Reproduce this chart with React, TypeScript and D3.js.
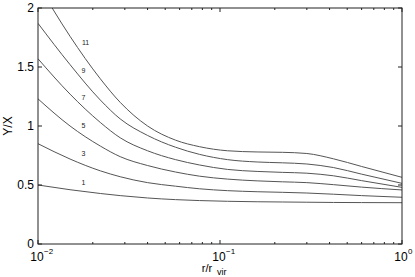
import React from 'react';
import * as d3 from 'd3';

// radius samples (r / r_vir) and the curves
const radii = [0.01, 0.015, 0.022, 0.0283, 0.04, 0.057, 0.077, 0.11, 0.16, 0.22, 0.3, 0.42, 0.6, 1];
const curve1 = [0.5, 0.46, 0.428, 0.41, 0.39, 0.376, 0.368, 0.362, 0.358, 0.356, 0.354, 0.352, 0.351, 0.35];
const curve3 = [0.85, 0.72, 0.62, 0.57, 0.52, 0.49, 0.468, 0.452, 0.443, 0.438, 0.432, 0.422, 0.41, 0.396];
const curve5 = [1.23, 1.0, 0.83, 0.74, 0.665, 0.61, 0.575, 0.55, 0.535, 0.527, 0.52, 0.503, 0.482, 0.458];
const curve7 = [1.57, 1.27, 1.03, 0.9, 0.79, 0.715, 0.67, 0.632, 0.615, 0.607, 0.6, 0.578, 0.537, 0.48];
const curve9 = [1.87, 1.52, 1.22, 1.06, 0.92, 0.82, 0.76, 0.715, 0.695, 0.688, 0.678, 0.648, 0.592, 0.514];
const curve11 = [2.2, 1.76, 1.4, 1.2, 1.0, 0.88, 0.825, 0.79, 0.78, 0.777, 0.767, 0.722, 0.657, 0.565];

const series = [
    {label: '1', values: curve1},
    {label: '3', values: curve3},
    {label: '5', values: curve5},
    {label: '7', values: curve7},
    {label: '9', values: curve9},
    {label: '11', values: curve11}
];

// label anchors (data coords)
const labelR = 0.0178;
const labelY = [0.5, 0.75, 0.985, 1.22, 1.45, 1.69];

const yTicks = [0, 0.5, 1, 1.5, 2];
const yTickLabels = ['0', '0.5', '1', '1.5', '2'];
const xMajor = [0.01, 0.1, 1];
const xMajorExp = ['\u22122', '\u22121', '0'];

export default function App()
{
    const margin = {top: 8, right: 13, bottom: 33, left: 38};
    const width = 415;
    const height = 277;
    const w = width - margin.left - margin.right;
    const h = height - margin.top - margin.bottom;

    const x = d3.scaleLog().domain([0.01, 1]).range([0, w]);
    const y = d3.scaleLinear().domain([0, 2]).range([h, 0]);

    const line = d3.line<number>()
        .x((d, i) => x(radii[i]))
        .y(d => y(d))
        .curve(d3.curveMonotoneX);

    const minor: number[] = [];
    [0.01, 0.1].forEach(base =>
    {
        for (let k = 2; k <= 9; k++) minor.push(base * k);
    });

    const font = 'Liberation Sans, Arial, Helvetica, sans-serif';
    const box = '#222';

    return (
        <svg width={width} height={height} style={{position: 'absolute', left: 0, top: 0}}>
            <defs>
                <clipPath id="plotclip">
                    <rect x={0} y={0} width={w} height={h}/>
                </clipPath>
            </defs>
            <g transform={'translate(' + margin.left + ',' + margin.top + ')'}>
                <g clipPath="url(#plotclip)">
                    {series.map(s => (
                        <path key={s.label} d={line(s.values) || ''} fill="none" stroke="#555" strokeWidth={1}/>
                    ))}
                </g>
                {series.map((s, i) => (
                    <text key={'l' + s.label} x={x(labelR) + (s.label.length > 1 ? 2 : 0)} y={y(labelY[i])}
                          fontSize={7} fontFamily={font} fill="#222" textAnchor="middle">{s.label}</text>
                ))}

                {/* box */}
                <rect x={0} y={0} width={w} height={h} fill="none" stroke={box} strokeWidth={1}/>

                {/* y ticks */}
                {yTicks.map((t, i) => (
                    <g key={'y' + i}>
                        <line x1={0} x2={4} y1={y(t)} y2={y(t)} stroke={box}/>
                        <line x1={w} x2={w - 4} y1={y(t)} y2={y(t)} stroke={box}/>
                        <text x={-4} y={y(t) + 4} fontSize={12} fontFamily={font} textAnchor="end" fill="#000">
                            {yTickLabels[i]}
                        </text>
                    </g>
                ))}

                {/* x ticks */}
                {minor.map((t, i) => (
                    <g key={'m' + i}>
                        <line x1={x(t)} x2={x(t)} y1={h} y2={h - 2} stroke={box}/>
                        <line x1={x(t)} x2={x(t)} y1={0} y2={2} stroke={box}/>
                    </g>
                ))}
                {xMajor.map((t, i) => (
                    <g key={'x' + i}>
                        <line x1={x(t)} x2={x(t)} y1={h} y2={h - 4} stroke={box}/>
                        <line x1={x(t)} x2={x(t)} y1={0} y2={4} stroke={box}/>
                        <text x={x(t) - 1} y={h + 17} fontSize={12} fontFamily={font} textAnchor="middle" fill="#000">10</text>
                        <text x={x(t) + 6} y={h + 10} fontSize={8} fontFamily={font} textAnchor="start" fill="#000">
                            {xMajorExp[i]}
                        </text>
                    </g>
                ))}

                {/* axis labels */}
                <text x={w / 2 - 13} y={h + 28} fontSize={11} fontFamily={font} textAnchor="middle" fill="#000">r/r</text>
                <text x={w / 2 - 3} y={h + 31} fontSize={9} fontFamily={font} textAnchor="start" fill="#000">vir</text>
                <text transform={'translate(' + (-26) + ',' + (h / 2) + ') rotate(-90)'} fontSize={12} fontFamily={font}
                      textAnchor="middle" fill="#000">Y/X</text>
            </g>
        </svg>
    );
}
